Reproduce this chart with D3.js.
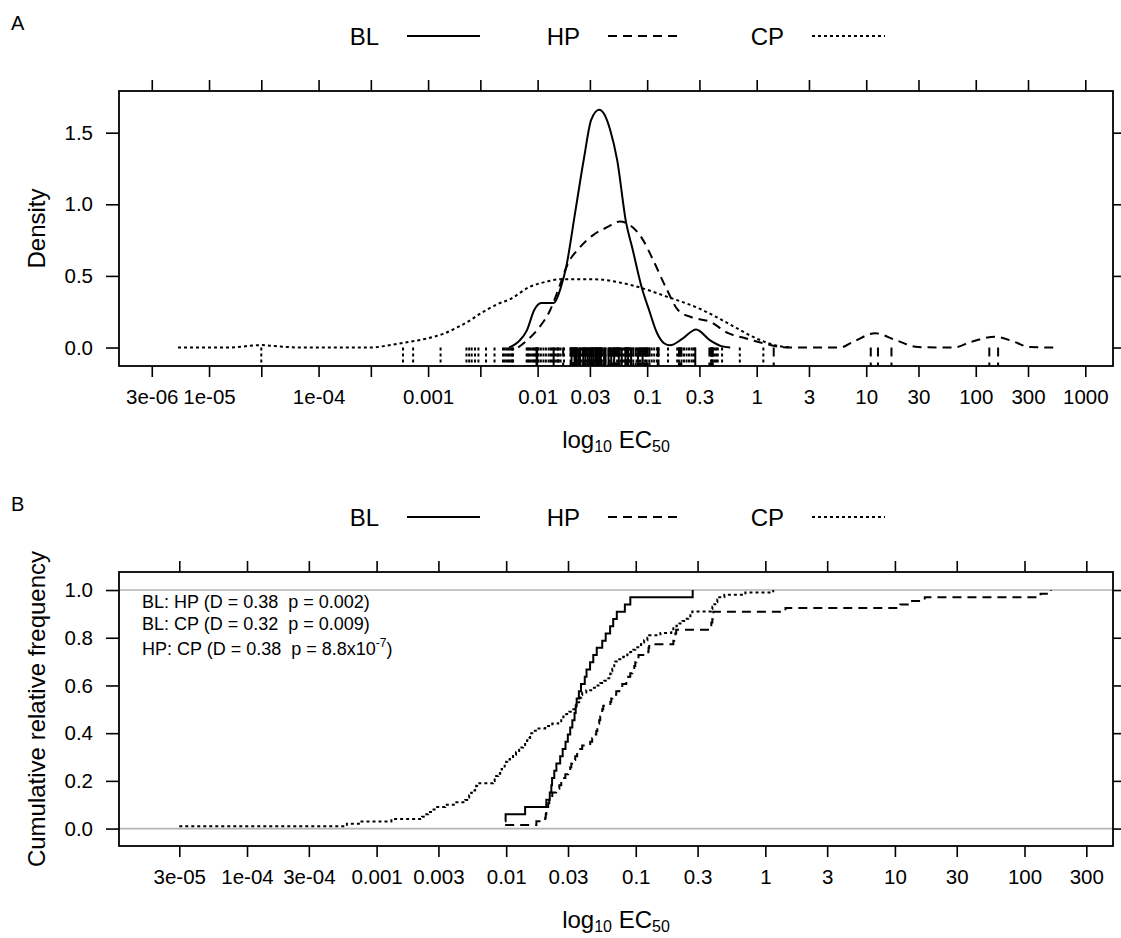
<!DOCTYPE html>
<html>
<head>
<meta charset="utf-8">
<script src="https://cdn.jsdelivr.net/npm/d3@7"></script>
<style>
  body { margin: 0; background: #fff; }
  svg text { font-family: "Liberation Sans", Arial, sans-serif; fill: #000; }
</style>
</head>
<body>
<svg id="chart"></svg>
<script>
const width = 1121;
const height = 938;

const groups = ["BL", "HP", "CP"];

const blEC50 = [0.0098, 0.0099, 0.0140, 0.0204, 0.0217, 0.0223, 0.0226, 0.0235, 0.0244, 0.0261,
  0.0273, 0.0287, 0.0299, 0.0312, 0.0324, 0.0337, 0.0344, 0.0350, 0.0364, 0.0378,
  0.0404, 0.0417, 0.0444, 0.0470, 0.0500, 0.0551, 0.0586, 0.0634, 0.0670, 0.0714,
  0.0824, 0.0908, 0.275];
const hpEC50 = [0.00982, 0.0171, 0.0200, 0.0202, 0.0204, 0.0207, 0.0211, 0.0215, 0.0219, 0.0227,
  0.0243, 0.0257, 0.0266, 0.0275, 0.0286, 0.0301, 0.0312, 0.0318, 0.0323, 0.0341,
  0.0353, 0.0373, 0.0386, 0.0445, 0.0461, 0.0478, 0.0496, 0.0505, 0.0513, 0.0522,
  0.0532, 0.0542, 0.0551, 0.0561, 0.0636, 0.0647, 0.0659, 0.0707, 0.0746, 0.0787,
  0.0845, 0.0875, 0.0907, 0.0940, 0.0974, 0.0991, 0.101, 0.105, 0.125, 0.1255,
  0.127, 0.195, 0.198, 0.202, 0.205, 0.370, 0.383, 0.390, 0.393, 0.397,
  1.43, 11.0, 12.8, 17.0, 133, 160];
const cpEC50 = [3.0e-05, 5.9e-04, 7.3e-04, 1.3e-03, 2.24e-03,
  0.00237, 0.00250, 0.00268, 0.00288, 0.00338, 0.00404, 0.00483,
  0.00500, 0.00518, 0.00537, 0.00556, 0.00576, 0.00587, 0.00597,
  0.00794, 0.00815, 0.00837, 0.00867, 0.00899, 0.00923, 0.00948, 0.00974, 0.0100, 0.0102,
  0.0107, 0.0113, 0.0119, 0.0126,
  0.0131, 0.0135, 0.0140, 0.0145, 0.0151, 0.0153, 0.0156, 0.0162,
  0.0174, 0.0200, 0.0227, 0.0252,
  0.0266, 0.0276, 0.0291, 0.0307, 0.0323, 0.0335, 0.0347,
  0.0360, 0.0366, 0.0373, 0.0380, 0.0386,
  0.0415, 0.0453, 0.0496, 0.0532, 0.0571, 0.0603,
  0.0625, 0.0636, 0.0647, 0.0659, 0.0671, 0.0682, 0.0695,
  0.0746, 0.0801, 0.0860, 0.0907,
  0.0957, 0.0991, 0.1045, 0.110, 0.116, 0.123,
  0.127, 0.155,
  0.188, 0.195, 0.206, 0.217, 0.229, 0.241, 0.254, 0.264, 0.273,
  0.383, 0.390, 0.397, 0.411, 0.426, 0.441,
  0.483, 0.701, 1.15];

// density curves (EC50, density)
const blDensX = [0.00550, 0.00687, 0.00798, 0.00929, 0.01076, 0.01403, 0.01629, 0.01820, 0.02198, 0.02661,
  0.03083, 0.03648, 0.0405, 0.0459, 0.0532, 0.0643, 0.0729, 0.0899, 0.1042, 0.1233,
  0.1429, 0.1622, 0.2086, 0.2799, 0.3758, 0.4742, 0.5728];
const blDensY = [0, 0.05, 0.12, 0.26, 0.31, 0.31, 0.42, 0.56, 0.94, 1.33,
  1.59, 1.66, 1.63, 1.52, 1.31, 0.87, 0.70, 0.41, 0.26, 0.10,
  0.03, 0.016, 0.06, 0.126, 0.05, 0.01, 0];
const hpDensX = [0.00664, 0.00802, 0.01033, 0.01300, 0.01571, 0.01901, 0.02371, 0.03214, 0.04315, 0.05623,
  0.06792, 0.09183, 0.1135, 0.1524, 0.1919, 0.2576, 0.3758, 0.5495, 0.8017, 1.169,
  1.710, 2.495, 5.794, 7.603, 12.08, 18.79, 29.85, 62.37, 90.99, 150.7,
  224.9, 308.3, 521.2];
const hpDensY = [0, 0.05, 0.14, 0.26, 0.42, 0.59, 0.69, 0.785, 0.84, 0.88,
  0.86, 0.75, 0.61, 0.40, 0.26, 0.21, 0.18, 0.10, 0.063, 0.028,
  0.003, 0, 0, 0.04, 0.10, 0.05, 0.003, 0, 0.04, 0.075,
  0.04, 0.003, 0];
const cpDensX = [5.21e-6, 1.556e-5, 2.366e-5, 3.048e-5, 4.009e-5, 6.776e-5, 3.013e-4, 4.111e-4, 5.916e-4, 1.112e-3,
  1.371e-3, 1.841e-3, 2.421e-3, 2.897e-3, 4.217e-3, 5.693e-3, 8.291e-3, 0.01206, 0.01629, 0.02951,
  0.03724, 0.04660, 0.07228, 0.1531, 0.3243, 0.5495, 0.9290, 1.466, 2.046];
const cpDensY = [0, 0, 0.012, 0.017, 0.01, 0, 0, 0.012, 0.032, 0.074,
  0.095, 0.14, 0.19, 0.23, 0.30, 0.34, 0.42, 0.46, 0.477, 0.477,
  0.475, 0.465, 0.435, 0.354, 0.26, 0.168, 0.074, 0.016, 0];

// axis ticks
const ticksA = [3e-6, 1e-5, 3e-5, 1e-4, 3e-4, 1e-3, 3e-3, 0.01, 0.03, 0.1, 0.3, 1, 3, 10, 30, 100, 300, 1000];
const tickLabelsA = ["3e-06", "1e-05", "", "1e-04", "", "0.001", "", "0.01", "0.03", "0.1", "0.3", "1", "3", "10", "30", "100", "300", "1000"];
const ticksB = [3e-5, 1e-4, 3e-4, 1e-3, 3e-3, 0.01, 0.03, 0.1, 0.3, 1, 3, 10, 30, 100, 300];
const tickLabelsB = ["3e-05", "1e-04", "3e-04", "0.001", "0.003", "0.01", "0.03", "0.1", "0.3", "1", "3", "10", "30", "100", "300"];
const densTicks = [0, 0.5, 1, 1.5];
const densTickLabels = ["0.0", "0.5", "1.0", "1.5"];
const cumTicks = [0, 0.2, 0.4, 0.6, 0.8, 1];
const cumTickLabels = ["0.0", "0.2", "0.4", "0.6", "0.8", "1.0"];

// KS test annotations
const ksPairs = ["BL: HP", "BL: CP", "HP: CP"];
const ksD = ["0.38", "0.32", "0.38"];
const ksP = ["0.002", "0.009", "8.8x10"];
const ksPExp = ["", "", "-7"];

const ec50 = { BL: blEC50, HP: hpEC50, CP: cpEC50 };
const dens = {
  BL: blDensX.map((x, i) => [x, blDensY[i]]),
  HP: hpDensX.map((x, i) => [x, hpDensY[i]]),
  CP: cpDensX.map((x, i) => [x, cpDensY[i]])
};
const dashes = { BL: null, HP: "9,6", CP: "3,3" };

const FONT = "Liberation Sans, Arial, sans-serif";

const svg = d3.select("#chart")
  .attr("width", width)
  .attr("height", height);

svg.append("rect").attr("width", width).attr("height", height).attr("fill", "#fff");

const boxA = { left: 119, right: 1113, top: 91, bottom: 366 };
const boxB = { left: 119, right: 1113, top: 572, bottom: 846 };

const xA = d3.scaleLog().domain([Math.pow(10, -5.822), Math.pow(10, 3.253)]).range([boxA.left, boxA.right]);
const yA = d3.scaleLinear().domain([-0.129, 1.791]).range([boxA.bottom, boxA.top]);
const xB = d3.scaleLog().domain([Math.pow(10, -4.988), Math.pow(10, 2.683)]).range([boxB.left, boxB.right]);
const yB = d3.scaleLinear().domain([-0.073, 1.0756]).range([boxB.bottom, boxB.top]);

function styleAxis(g) {
  g.select(".domain").remove();
  g.attr("font-size", 20.5).attr("font-family", FONT);
  g.selectAll(".tick line").attr("stroke", "#000").attr("stroke-width", 1.6);
  g.selectAll(".tick text").attr("fill", "#000");
}

function frame(box, x, y, xt, xl, yt, yl) {
  const g = svg.append("g");
  g.append("g").attr("transform", `translate(0,${box.bottom})`)
    .call(d3.axisBottom(x).tickValues(xt).tickFormat((d, i) => xl[i]).tickSize(11).tickPadding(12))
    .call(styleAxis);
  g.append("g").attr("transform", `translate(0,${box.top})`)
    .call(d3.axisTop(x).tickValues(xt).tickFormat(() => "").tickSize(11))
    .call(styleAxis);
  g.append("g").attr("transform", `translate(${box.left},0)`)
    .call(d3.axisLeft(y).tickValues(yt).tickFormat((d, i) => yl[i]).tickSize(13).tickPadding(13))
    .call(styleAxis);
  g.append("g").attr("transform", `translate(${box.right},0)`)
    .call(d3.axisRight(y).tickValues(yt).tickFormat(() => "").tickSize(13))
    .call(styleAxis);
  return g;
}

function clip(id, box) {
  svg.append("clipPath").attr("id", id)
    .append("rect")
    .attr("x", box.left).attr("y", box.top)
    .attr("width", box.right - box.left).attr("height", box.bottom - box.top);
}
clip("clipA", boxA);
clip("clipB", boxB);

function legend(cy) {
  const lineX = [407, 608, 812];
  const lg = svg.append("g");
  groups.forEach((k, i) => {
    lg.append("text")
      .attr("x", lineX[i] - 28).attr("y", cy)
      .attr("text-anchor", "end").attr("dominant-baseline", "central")
      .attr("font-size", 24)
      .text(k);
    lg.append("line")
      .attr("x1", lineX[i]).attr("x2", lineX[i] + 73)
      .attr("y1", cy).attr("y2", cy)
      .attr("stroke", "#000").attr("stroke-width", 2)
      .attr("stroke-dasharray", dashes[k]);
  });
}

function xTitle(cx, baseline) {
  const t = svg.append("text").attr("x", cx).attr("y", baseline)
    .attr("text-anchor", "middle").attr("font-size", 24);
  t.append("tspan").text("log");
  t.append("tspan").attr("font-size", 16).attr("dy", 4).text("10");
  t.append("tspan").attr("dy", -4).text(" EC");
  t.append("tspan").attr("font-size", 16).attr("dy", 4).text("50");
}

function yTitle(cy, label) {
  svg.append("text")
    .attr("transform", `translate(45,${cy}) rotate(-90)`)
    .attr("text-anchor", "middle").attr("font-size", 24)
    .text(label);
}

// ---------- Panel A: density ----------
svg.append("text").attr("x", 11).attr("y", 30).attr("font-size", 20).text("A");
legend(36);

const lineA = d3.line()
  .x(d => xA(d[0]))
  .y(d => yA(d[1]))
  .curve(d3.curveMonotoneX);

const plotA = svg.append("g").attr("clip-path", "url(#clipA)");
groups.forEach(k => {
  plotA.append("path")
    .datum(dens[k])
    .attr("d", lineA)
    .attr("fill", "none")
    .attr("stroke", "#000")
    .attr("stroke-width", 2)
    .attr("stroke-dasharray", dashes[k]);
  // rug of the raw values
  plotA.selectAll(null)
    .data(ec50[k])
    .enter()
    .append("line")
    .attr("x1", d => xA(d)).attr("x2", d => xA(d))
    .attr("y1", yA(0)).attr("y2", boxA.bottom)
    .attr("stroke", "#000")
    .attr("stroke-width", 2)
    .attr("stroke-dasharray", dashes[k]);
});

frame(boxA, xA, yA, ticksA, tickLabelsA, densTicks, densTickLabels);
svg.append("rect")
  .attr("x", boxA.left).attr("y", boxA.top)
  .attr("width", boxA.right - boxA.left).attr("height", boxA.bottom - boxA.top)
  .attr("fill", "none").attr("stroke", "#000").attr("stroke-width", 1.8);
xTitle((boxA.left + boxA.right) / 2, 448);
yTitle((boxA.top + boxA.bottom) / 2, "Density");

// ---------- Panel B: ECDF ----------
svg.append("text").attr("x", 11).attr("y", 511).attr("font-size", 20).text("B");
legend(517);

const plotB = svg.append("g").attr("clip-path", "url(#clipB)");
[0, 1].forEach(v => {
  plotB.append("line")
    .attr("x1", boxB.left).attr("x2", boxB.right)
    .attr("y1", yB(v)).attr("y2", yB(v))
    .attr("stroke", "#b4b4b4").attr("stroke-width", 1.6);
});

const stepLine = d3.line()
  .x(d => xB(d[0]))
  .y(d => yB(d[1]))
  .curve(d3.curveStepAfter);

groups.forEach(k => {
  const vals = ec50[k].slice().sort((a, b) => a - b);
  const n = vals.length;
  plotB.append("path")
    .datum(vals.map((v, i) => [v, (i + 1) / n]))
    .attr("d", stepLine)
    .attr("fill", "none")
    .attr("stroke", "#000")
    .attr("stroke-width", 2)
    .attr("stroke-dasharray", dashes[k]);
});

frame(boxB, xB, yB, ticksB, tickLabelsB, cumTicks, cumTickLabels);
svg.append("rect")
  .attr("x", boxB.left).attr("y", boxB.top)
  .attr("width", boxB.right - boxB.left).attr("height", boxB.bottom - boxB.top)
  .attr("fill", "none").attr("stroke", "#000").attr("stroke-width", 1.8);

const ksBase = [608, 629.5, 655];
ksPairs.forEach((pair, i) => {
  const t = svg.append("text")
    .attr("x", 142).attr("y", ksBase[i])
    .attr("font-size", 18)
    .attr("xml:space", "preserve");
  t.append("tspan").text(`${pair} (D = ${ksD[i]}  p = ${ksP[i]}`);
  if (ksPExp[i]) {
    t.append("tspan").attr("font-size", 12).attr("dy", -8).text(ksPExp[i]);
    t.append("tspan").attr("dy", 8).text(")");
  } else {
    t.append("tspan").text(")");
  }
});

xTitle((boxB.left + boxB.right) / 2, 928);
yTitle((boxB.top + boxB.bottom) / 2, "Cumulative relative frequency");
</script>
</body>
</html>
